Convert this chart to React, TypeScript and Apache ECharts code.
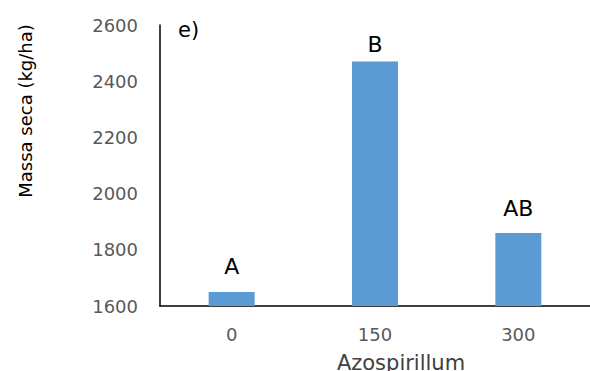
import React, { useEffect, useRef } from "react";
import * as echarts from "echarts";

const categories = ["0", "150", "300"];
const massaSeca = [1650, 2470, 1860];
const letters = ["A", "B", "AB"];
const yTicks = { min: 1600, max: 2600, interval: 200 };

const FONT = "'DejaVu Sans', sans-serif";

export default function App() {
  const ref = useRef<HTMLDivElement>(null);

  useEffect(() => {
    if (!ref.current) return;
    const chart = echarts.init(ref.current, undefined, { renderer: "svg" });
    // the significance letters sit at slightly different heights above each bar
    const letterGap = [14, 6, 13];
    chart.setOption({
      animation: false,
      grid: { left: 160, top: 25, height: 281, width: 438 },
      xAxis: {
        type: "category",
        data: categories,
        axisLine: { lineStyle: { color: "#000", width: 1.5 } },
        axisTick: { show: false },
        axisLabel: { color: "#595959", fontSize: 18, fontFamily: FONT, margin: 19 },
      },
      yAxis: {
        type: "value",
        min: yTicks.min,
        max: yTicks.max,
        interval: yTicks.interval,
        axisLine: { show: true, lineStyle: { color: "#000", width: 1.5 } },
        axisTick: { show: false },
        splitLine: { show: false },
        axisLabel: {
          color: "#595959",
          fontSize: 18,
          fontFamily: FONT,
          margin: 22,
          formatter: (v: number) => String(v),
        },
      },
      series: [
        {
          type: "bar",
          data: massaSeca.map((v, i) => ({ value: v, label: { distance: letterGap[i] } })),
          barWidth: 46,
          itemStyle: { color: "#5b9bd5" },
          label: {
            show: true,
            position: "top",
            color: "#000",
            fontSize: 22,
            fontFamily: FONT,
            formatter: (p: any) => letters[p.dataIndex],
          },
        },
      ],
      graphic: [
        {
          type: "text",
          x: 178,
          y: 30,
          style: { text: "e)", fill: "#000", fontSize: 21, fontFamily: FONT, verticalAlign: "middle" },
        },
        {
          type: "text",
          x: 25,
          y: 111,
          rotation: Math.PI / 2,
          style: {
            text: "Massa seca (kg/ha)",
            fill: "#000",
            fontSize: 18,
            fontFamily: FONT,
            align: "center",
            verticalAlign: "middle",
          },
        },
        {
          type: "text",
          x: 401,
          y: 363,
          style: {
            text: "Azospirillum",
            fill: "#404040",
            fontSize: 21,
            fontFamily: FONT,
            align: "center",
            verticalAlign: "middle",
          },
        },
      ],
    });
    return () => chart.dispose();
  }, []);

  return (
    <div
      ref={ref}
      style={{ position: "fixed", left: 0, top: 0, width: 590, height: 371, background: "#fff" }}
    />
  );
}
